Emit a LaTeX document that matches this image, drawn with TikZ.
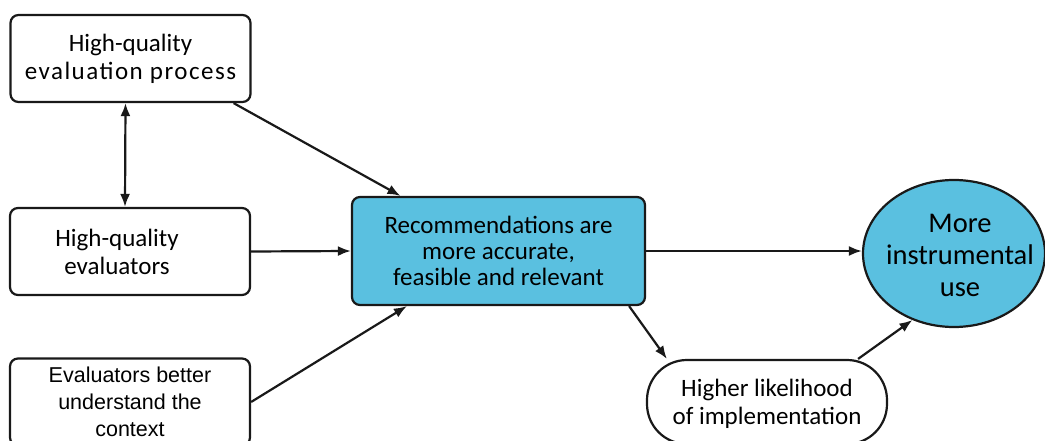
\documentclass[tikz,border=0pt]{standalone}
\usepackage{fontspec}
\setmainfont{Carlito}
\newfontfamily\arialfont{Liberation Sans}
\usetikzlibrary{arrows.meta,shapes.geometric,calc}
\definecolor{recblue}{RGB}{90,192,224}
\definecolor{linegray}{RGB}{25,25,25}
\tikzset{
  box/.style={draw=linegray,line width=2.2pt,rounded corners=8pt,minimum width=240pt,minimum height=87pt,align=center,inner sep=2pt,font=\fontsize{25}{28}\selectfont},
  bluebox/.style={box,fill=recblue,minimum width=293pt,minimum height=108pt,font=\fontsize{25}{26}\selectfont},
  ell/.style={ellipse,draw=linegray,line width=2.2pt,fill=recblue,minimum width=182pt,minimum height=147pt,inner sep=0pt},
  elltext/.style={align=center,inner sep=0pt,font=\fontsize{28.5}{32}\selectfont},
  plain/.style={align=center,inner sep=0pt,font=\fontsize{25}{28}\selectfont},
  stad/.style={box,rounded corners=40pt,minimum width=240pt,minimum height=84pt},
  arr/.style={line width=2.2pt,draw=linegray,-{Latex[length=13pt,width=10pt]}},
  darr/.style={line width=2.2pt,draw=linegray,{Latex[length=13pt,width=10pt]}-{Latex[length=13pt,width=10pt]}}
}
\begin{document}
\begin{tikzpicture}[x=1pt,y=-1pt]
\useasboundingbox (0,0) rectangle (1045,441);
\clip (0,0) rectangle (1045,441);
\fill[white] (0,0) rectangle (1045,441);
\node[box] (b1) at (130.5,58.5) {High-quality\\{\addfontfeature{LetterSpace=6}evaluation process}};
\node[box] (b2) at (130,251.5) {};
\node[plain] (b2t) at ([xshift=-13pt]b2.center) {High-quality\\evaluators};
\node[box,font=\arialfont\fontsize{21.5}{27}\selectfont] (b3) at (130,402) {Evaluators better\\understand the\\context};
\node[bluebox] (c) at (498.5,251) {Recommendations are\\more accurate,\\feasible and relevant};
\node[ell] (el) at (954,253.5) {};
\node[elltext] (elt) at ([xshift=6pt,yshift=-2pt]el.center) {More\\instrumental\\use};
\node[stad] (st) at (767,402) {};
\node[plain] (stt) at ([yshift=-2pt]st.center) {Higher likelihood\\of implementation};
\draw[darr] ([xshift=-5pt]b1.south) -- ([xshift=-5pt]b2.north);
\draw[arr] ([xshift=-18pt]b1.south east) -- ([xshift=-98pt]c.north);
\draw[arr] (b2.east) -- (c.west);
\draw[arr] (b3.east) -- ([xshift=56pt]c.south west);
\draw[arr] (c.east) -- (c.east -| el.west);
\draw[arr] ([xshift=-17pt]c.south east) -- ([xshift=21pt]st.north west);
\draw[arr] ([xshift=-30pt]st.north east) -- (el.238);
\end{tikzpicture}
\end{document}
